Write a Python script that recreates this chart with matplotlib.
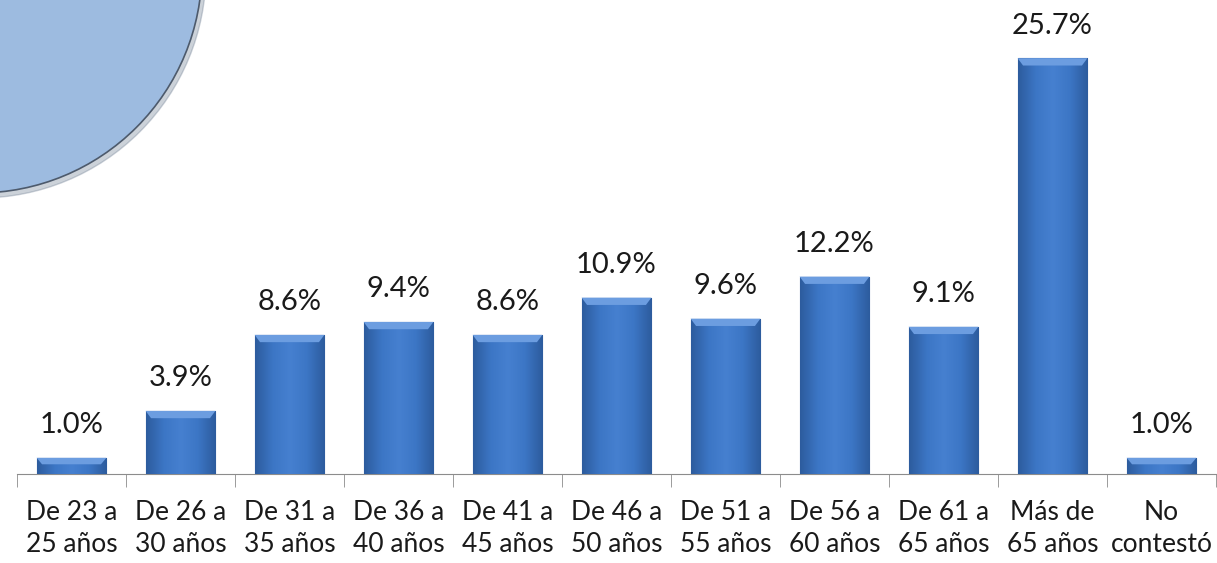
import numpy as np
import matplotlib.pyplot as plt
from matplotlib.patches import Circle
from matplotlib.colors import LinearSegmentedColormap

categories = ['De 23 a\n25 años', 'De 26 a\n30 años', 'De 31 a\n35 años', 'De 36 a\n40 años',
              'De 41 a\n45 años', 'De 46 a\n50 años', 'De 51 a\n55 años', 'De 56 a\n60 años',
              'De 61 a\n65 años', 'Más de\n65 años', 'No\ncontestó']
values = [1.0, 3.9, 8.6, 9.4, 8.6, 10.9, 9.6, 12.2, 9.1, 25.7, 1.0]
labels = ['1.0%', '3.9%', '8.6%', '9.4%', '8.6%', '10.9%', '9.6%', '12.2%', '9.1%', '25.7%', '1.0%']

plt.rcParams['font.family'] = ['Lato', 'DejaVu Sans']

W, H = 1217, 563
fig = plt.figure(figsize=(W / 100, H / 100), dpi=100)

# decorative circle in the top-left corner
bg = fig.add_axes([0, 0, 1, 1])
bg.set_xlim(0, W)
bg.set_ylim(H, 0)
bg.axis('off')
bg.add_patch(Circle((-20, -28), 226, color='#6f7f93', alpha=0.35, zorder=1))
bg.add_patch(Circle((-22, -31), 224, facecolor='#9dbbe0', edgecolor='#4d5a6c', lw=1.2, zorder=2))

ax = fig.add_axes([17 / W, (H - 474) / H, (1216 - 17) / W, 474 / H])
ax.patch.set_alpha(0)
x = np.arange(len(values))
bars = ax.bar(x, values, width=0.64, color='#3a72c0', edgecolor='#2c5a9a', linewidth=0.8, zorder=3)

# horizontal shading across each bar
cmap = LinearSegmentedColormap.from_list('bar', ['#2d5c9e', '#3c76c5', '#4680d0', '#3c76c5', '#2d5c9e'])
grad = np.linspace(0, 1, 64).reshape(1, -1)
for b in bars:
    x0, w, h = b.get_x(), b.get_width(), b.get_height()
    im = ax.imshow(grad, cmap=cmap, extent=[x0, x0 + w, 0, h], aspect='auto', zorder=4)
    im.set_clip_path(b)
    cap = min(0.45, h * 0.4)
    ax.fill([x0, x0 + w, x0 + w - 0.05, x0 + 0.05], [h, h, h - cap, h - cap],
            color='#6c9de0', zorder=5, lw=0)

for xi, v, lab in zip(x, values, labels):
    ax.annotate(lab, (xi, v), xytext=(0, 14), textcoords='offset points',
                ha='center', va='bottom', fontsize=21, color='#1a1a1a')

ax.set_xlim(-0.5, len(values) - 0.5)
ax.set_ylim(0, 29.3)
ax.set_yticks([])
for s in ['top', 'right', 'left']:
    ax.spines[s].set_visible(False)
ax.spines['bottom'].set_color('#8c8c8c')
ax.set_xticks(x)
ax.set_xticklabels(categories, fontsize=19, color='#1a1a1a', linespacing=1.35)
ax.tick_params(axis='x', which='major', length=0, pad=19)
ax.set_xticks(np.arange(len(values) + 1) - 0.5, minor=True)
ax.tick_params(axis='x', which='minor', length=9, color='#8c8c8c')

fig.savefig('out.png', dpi=100)
